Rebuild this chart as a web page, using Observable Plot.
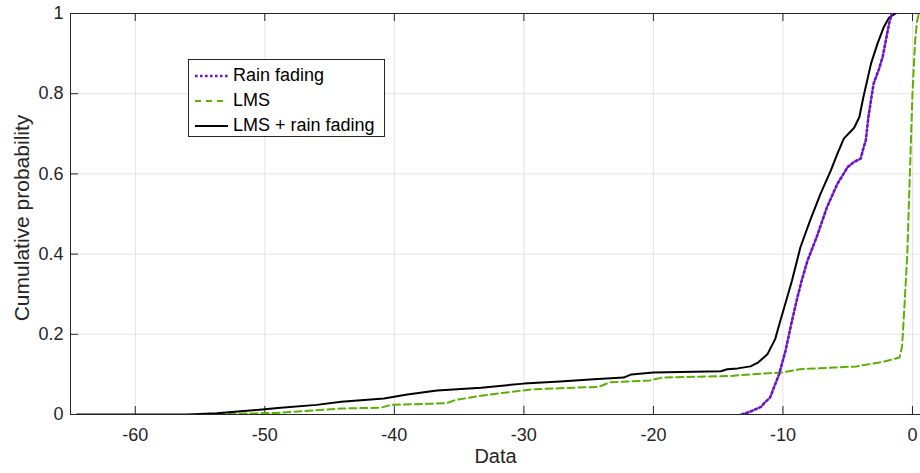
<!DOCTYPE html>
<html>
<head>
<meta charset="utf-8">
<script src="https://cdn.jsdelivr.net/npm/d3@7"></script>
<script src="https://cdn.jsdelivr.net/npm/@observablehq/plot@0.6"></script>
<style>
  html, body { margin: 0; padding: 0; background: #fff; }
  #wrap { position: relative; width: 920px; height: 473px; overflow: hidden; font-family: "Liberation Sans", Arial, sans-serif; }
  #legend { position: absolute; left: 188px; top: 59px; width: 197px; height: 78px; border: 1px solid #262626; background: #fff; box-sizing: border-box; }
  #legend .row { position: absolute; left: 0; height: 25px; display: flex; align-items: center; font-size: 18px; color: #000; white-space: nowrap; }
  #legend svg { margin-left: 6px; margin-right: 5px; }
</style>
</head>
<body>
<div id="wrap"></div>
<script>
// Empirical CDFs (dB) for each fading model
const rainX = [-13.2, -12.6, -11.7, -11.4, -11.0, -10.3, -9.8, -9.3, -8.9, -8.5, -8.1, -7.4, -6.6, -5.8, -5.0, -4.5, -4.0, -3.76, -3.6, -3.4, -3.2, -3.0, -2.6, -2.3, -2.0, -1.8, -1.6];
const rainY = [0, 0.006, 0.019, 0.03, 0.042, 0.10, 0.159, 0.234, 0.29, 0.34, 0.384, 0.442, 0.517, 0.575, 0.617, 0.63, 0.638, 0.667, 0.684, 0.742, 0.784, 0.825, 0.86, 0.892, 0.942, 0.975, 1.0];

const lmsX = [-54.5, -49, -46.4, -44, -41, -40.3, -36, -35.3, -33.3, -30.3, -29.3, -24.2, -23.4, -20.3, -19.3, -14.1, -12.5, -10, -8.7, -6.1, -4.3, -2.2, -1.0, -0.8, -0.6, -0.4, -0.2, 0, 0.2, 0.35, 0.5];
const lmsY = [0, 0.004, 0.010, 0.015, 0.017, 0.024, 0.028, 0.036, 0.047, 0.059, 0.063, 0.069, 0.080, 0.085, 0.092, 0.096, 0.100, 0.105, 0.113, 0.117, 0.120, 0.132, 0.142, 0.17, 0.28, 0.40, 0.60, 0.80, 0.93, 0.98, 1.0];

const combX = [-64.5, -56, -53.7, -50, -49, -46, -44.1, -40.8, -39, -36.7, -33.3, -30, -27.2, -24.6, -22.3, -21.7, -20, -14.8, -14.3, -13.5, -12.5, -11.9, -11.2, -10.6, -10.2, -9.9, -9.3, -8.65, -7.9, -7.1, -6.3, -5.8, -5.3, -4.5, -4.1, -3.8, -3.2, -2.7, -2.2, -1.8, -1.3];
const combY = [0, 0, 0.003, 0.013, 0.016, 0.024, 0.032, 0.040, 0.05, 0.06, 0.067, 0.077, 0.082, 0.088, 0.092, 0.10, 0.105, 0.108, 0.113, 0.115, 0.12, 0.13, 0.15, 0.188, 0.234, 0.267, 0.334, 0.417, 0.484, 0.55, 0.609, 0.65, 0.688, 0.715, 0.742, 0.79, 0.875, 0.925, 0.967, 0.99, 1.0];

const xTicks = [-60, -50, -40, -30, -20, -10, 0];
const yTicks = [0, 0.2, 0.4, 0.6, 0.8, 1];

const seriesNames = ["Rain fading", "LMS", "LMS + rain fading"];
const seriesColors = ["#6a12cc", "#5cb000", "#000000"];
const seriesDash = ["2.2,2.6", "7,4", null];

const toRows = (xs, ys) => xs.map((x, i) => ({x, y: ys[i]}));
const rain = toRows(rainX, rainY);
const lms = toRows(lmsX, lmsY);
const comb = toRows(combX, combY);

const xDomain = [-65, 0.62];
const axisColor = "#262626";
const tickLenX = 8 / 12.95;   // inward tick length in x units
const tickLenY = 8 / 400;     // inward tick length in y units

const chart = Plot.plot({
  width: 920,
  height: 473,
  marginLeft: 70,
  marginRight: 0,
  marginTop: 13,
  marginBottom: 59,
  style: {fontFamily: '"Liberation Sans", Arial, sans-serif', fontSize: "18px", color: axisColor, background: "#fff"},
  x: {domain: xDomain},
  y: {domain: [0, 1]},
  marks: [
    Plot.gridX(xTicks, {stroke: "#e3e3e3", strokeOpacity: 1, strokeWidth: 1}),
    Plot.gridY(yTicks, {stroke: "#e3e3e3", strokeOpacity: 1, strokeWidth: 1}),
    Plot.axisX(xTicks, {tickSize: 0, tickPadding: 14, tickFormat: d => String(d), fill: axisColor, fontSize: 18, label: null}),
    Plot.axisY(yTicks, {tickSize: 0, tickPadding: 7, tickFormat: d => String(d), fill: axisColor, fontSize: 18, label: null}),
    // frame: left, bottom, top
    Plot.ruleX([xDomain[0]], {stroke: axisColor, strokeWidth: 1}),
    Plot.ruleY([0, 1], {stroke: axisColor, strokeWidth: 1}),
    // inward tick marks
    Plot.ruleX(xTicks, {y1: 0, y2: tickLenY, stroke: axisColor}),
    Plot.ruleX(xTicks, {y1: 1 - tickLenY, y2: 1, stroke: axisColor}),
    Plot.ruleY(yTicks, {x1: xDomain[0], x2: xDomain[0] + tickLenX, stroke: axisColor}),
    // data
    Plot.line(lms, {x: "x", y: "y", stroke: seriesColors[1], strokeWidth: 2, strokeDasharray: seriesDash[1], clip: true}),
    Plot.line(comb, {x: "x", y: "y", stroke: seriesColors[2], strokeWidth: 2, clip: true}),
    Plot.line(rain, {x: "x", y: "y", stroke: seriesColors[0], strokeWidth: 2.6, strokeDasharray: seriesDash[0], clip: true}),
    // axis titles
    Plot.text(["Data"], {frameAnchor: "bottom", dy: 48, fontSize: 20, fill: axisColor}),
    Plot.text(["Cumulative probability"], {frameAnchor: "left", textAnchor: "middle", rotate: -90, dx: -48, dy: 4, fontSize: 21, fill: axisColor})
  ]
});

const wrap = document.getElementById("wrap");
wrap.appendChild(chart);

// legend box inside the axes
const legend = document.createElement("div");
legend.id = "legend";
seriesNames.forEach((name, i) => {
  const row = document.createElement("div");
  row.className = "row";
  row.style.top = (3 + i * 25) + "px";
  const dash = seriesDash[i] ? `stroke-dasharray="${i === 0 ? "2.6,2.4" : "6,5"}"` : "";
  row.innerHTML = `<svg width="33" height="6"><line x1="0" y1="3" x2="33" y2="3" stroke="${seriesColors[i]}" stroke-width="${i === 0 ? 2.6 : 2}" ${dash}/></svg><span>${name}</span>`;
  legend.appendChild(row);
});
wrap.appendChild(legend);
</script>
</body>
</html>
